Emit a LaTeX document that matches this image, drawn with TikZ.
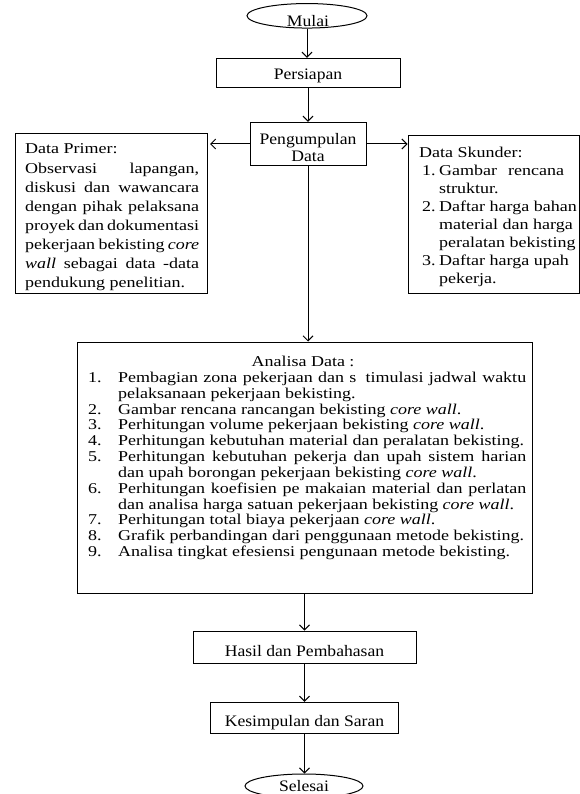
\documentclass[tikz,border=0pt]{standalone}
\usepackage{fontspec}
\setmainfont{Liberation Serif}[FakeStretch=1.2]
\newfontfamily\midfont{Liberation Serif}[FakeStretch=1.1]
\usetikzlibrary{arrows.meta,shapes.geometric}
\newcommand\jline[1]{\makebox[\linewidth][s]{#1}}
\begin{document}
\begin{tikzpicture}[x=1pt,y=-1pt,
  every node/.style={font=\fontsize{15}{17}\selectfont},
  box/.style={draw, line width=1pt, inner sep=0pt, rectangle},
  term/.style={draw, line width=1pt, ellipse, inner sep=0pt},
  conn/.style={line width=1pt, -{Straight Barb[length=5pt,width=10pt]}},
  txt/.style={inner sep=0pt, anchor=base west},
  midtxt/.style={inner sep=0pt, anchor=base, font=\midfont\fontsize{16}{16.7}\selectfont}]
\useasboundingbox (0,0) rectangle (580,794);
% boxes
\node[term, minimum width=120pt, minimum height=24.5pt] (mulai) at (307,15.8) {};
\node[box, minimum width=184pt, minimum height=29pt] (pers) at (308,72.8) {};
\node[box, minimum width=116pt, minimum height=43.4pt] (peng) at (308,144) {};
\node[box, minimum width=192pt, minimum height=159pt] (prim) at (111,213.5) {};
\node[box, minimum width=171pt, minimum height=157pt] (sek) at (493.5,214.5) {};
\node[box, minimum width=455pt, minimum height=251pt] (ana) at (304.5,467.5) {};
\node[box, minimum width=223pt, minimum height=32.3pt] (hasil) at (304.5,647.2) {};
\node[box, minimum width=188pt, minimum height=31pt] (kes) at (304.5,717.8) {};
\node[term, minimum width=118pt, minimum height=24pt] (sel) at (304,786) {};
% box texts
\node[midtxt] (mulait) at (308,26.5) {Mulai};
\node[midtxt] (perst) at (308,80) {Persiapan};
\node[midtxt] (pengt) at (308,145) {\parbox[t]{112pt}{\centering Pengumpulan\\Data}};
\node[midtxt] (hasilt) at (304.5,656.7) {Hasil dan Pembahasan};
\node[midtxt] (kest) at (304.5,726.7) {Kesimpulan dan Saran};
\node[midtxt] (selt) at (304,791) {Selesai};
\node[txt] (primtxt) at (25,154) {\parbox[t]{174pt}{\fontsize{15}{19.05}\selectfont
Data Primer:\\
\jline{Observasi lapangan,}\\
\jline{diskusi dan wawancara}\\
\jline{dengan pihak pelaksana}\\
\jline{proyek dan dokumentasi}\\
\jline{pekerjaan bekisting \textit{core}}\\
\jline{\textit{wall} sebagai data -data}\\
pendukung penelitian.}};
\node[txt] (sektxt) at (419,158) {\parbox[t]{160pt}{\fontsize{15}{18}\selectfont
Data Skunder:\\
\hspace*{3pt}\makebox[17pt][l]{1.}\makebox[125pt][s]{Gambar rencana}\\
\hspace*{20pt}struktur.\\
\hspace*{3pt}\makebox[17pt][l]{2.}Daftar harga bahan\\
\hspace*{20pt}material dan harga\\
\hspace*{20pt}peralatan bekisting\\
\hspace*{3pt}\makebox[17pt][l]{3.}Daftar harga upah\\
\hspace*{20pt}pekerja.}};
\node[inner sep=0pt, anchor=base] (anahead) at (303,366) {Analisa Data :};
\node[txt] (anatxt) at (88,382.3) {\parbox[t]{445pt}{\fontsize{15}{15.85}\selectfont
\makebox[30pt][l]{1.}\makebox[408pt][s]{Pembagian zona pekerjaan dan s\hspace{4pt} timulasi jadwal waktu}\\
\hspace*{30pt}pelaksanaan pekerjaan bekisting.\\
\makebox[30pt][l]{2.}Gambar rencana rancangan bekisting \textit{core wall}.\\
\makebox[30pt][l]{3.}Perhitungan volume pekerjaan bekisting \textit{core wall}.\\
\makebox[30pt][l]{4.}Perhitungan kebutuhan material dan peralatan bekisting.\\
\makebox[30pt][l]{5.}\makebox[408pt][s]{Perhitungan kebutuhan pekerja dan upah sistem harian}\\
\hspace*{30pt}dan upah borongan pekerjaan bekisting \textit{core wall}.\\
\makebox[30pt][l]{6.}\makebox[408pt][s]{Perhitungan koefisien pe makaian material dan perlatan}\\
\hspace*{30pt}dan analisa harga satuan pekerjaan bekisting \textit{core wall}.\\
\makebox[30pt][l]{7.}Perhitungan total biaya pekerjaan \textit{core wall}.\\
\makebox[30pt][l]{8.}Grafik perbandingan dari penggunaan metode bekisting.\\
\makebox[30pt][l]{9.}Analisa tingkat efesiensi pengunaan metode bekisting.}};
% connectors
\draw[conn] (mulai.south) -- (mulai.south |- pers.north);
\draw[conn] (pers.south) -- (peng.north);
\draw[conn, shorten >=2.5pt] (peng.west) -- (peng.west -| prim.east);
\draw[conn] (peng.east) -- (peng.east -| sek.west);
\draw[conn] (peng.south) -- (peng.south |- ana.north);
\draw[conn] (ana.south) -- (hasil.north);
\draw[conn] (hasil.south) -- (kes.north);
\draw[conn] (kes.south) -- (kes.south |- sel.north);
\end{tikzpicture}
\end{document}
